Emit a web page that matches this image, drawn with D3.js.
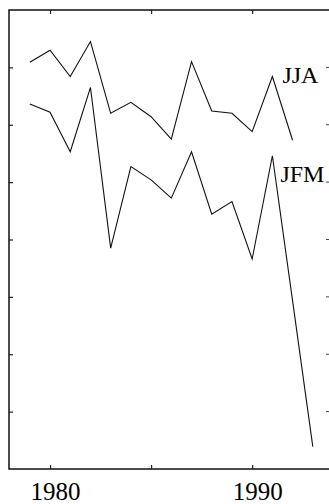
<!DOCTYPE html>
<html>
<head>
<meta charset="utf-8">
<script src="https://cdn.jsdelivr.net/npm/d3@7"></script>
<style>
  html, body { margin: 0; padding: 0; background: #fff; overflow: hidden; }
  svg { display: block; }
  text { font-family: "Liberation Serif", "DejaVu Serif", serif; fill: #000; }
</style>
</head>
<body>
<script>
// series (arbitrary units, one unit per y tick)
const yearsJJA = [1979, 1980, 1981, 1982, 1983, 1984, 1985, 1986, 1987, 1988, 1989, 1990, 1991, 1992];
const valuesJJA = [7.09, 7.30, 6.84, 7.45, 6.20, 6.39, 6.14, 5.75, 7.10, 6.24, 6.20, 5.88, 6.84, 5.73];

const yearsJFM = [1979, 1980, 1981, 1982, 1983, 1984, 1985, 1986, 1987, 1988, 1989, 1990, 1991, 1992, 1993];
const valuesJFM = [6.36, 6.22, 5.53, 6.65, 3.85, 5.27, 5.04, 4.72, 5.53, 4.44, 4.66, 3.66, 5.46, 2.93, 0.39];

const xTicks = [1980, 1985, 1990];
const xLabels = [1980, 1990];
const yTicks = [1, 2, 3, 4, 5, 6, 7];

const width = 329, height = 504;
// the right edge of the box falls just outside the picture
const frame = { left: 9, top: 10, right: 331, bottom: 469 };

const svg = d3.select("body").append("svg")
    .attr("width", width)
    .attr("height", height);

const x = d3.scaleLinear()
    .domain([1977.97, 1993.9])
    .range([frame.left, frame.right]);

const y = d3.scaleLinear()
    .domain([0, 8])
    .range([frame.bottom, frame.top]);

// ticks pointing into the box
const bottomAxis = svg.append("g")
    .attr("transform", `translate(0,${frame.bottom})`)
    .call(d3.axisBottom(x)
        .tickValues(xTicks)
        .tickSize(-4)
        .tickSizeOuter(0)
        .tickPadding(13)
        .tickFormat(d => xLabels.includes(d) ? d : ""));

bottomAxis.selectAll("text")
    .attr("dx", 5)
    .style("font-size", "25px")
    .style("font-family", "'Liberation Serif', serif")
    .attr("fill", "#000");

svg.append("g")
    .attr("transform", `translate(0,${frame.top})`)
    .call(d3.axisTop(x).tickValues(xTicks).tickSize(-4).tickSizeOuter(0).tickFormat(""));

svg.append("g")
    .attr("transform", `translate(${frame.left},0)`)
    .call(d3.axisLeft(y).tickValues(yTicks).tickSize(-4).tickSizeOuter(0).tickFormat(""));

// right side: only the inward stubs reach into the picture
svg.append("g")
    .selectAll("line")
    .data(yTicks)
    .join("line")
    .attr("x1", width - 3)
    .attr("x2", width)
    .attr("y1", d => y(d))
    .attr("y2", d => y(d))
    .attr("stroke", "#444")
    .attr("stroke-width", 1);

svg.selectAll(".domain").remove();
svg.selectAll(".tick line").attr("stroke", "#222").attr("stroke-width", 1.2);

// box: left, top and bottom sides only
svg.append("path")
    .attr("d", `M${width},${frame.top}H${frame.left}V${frame.bottom}H${width}`)
    .attr("fill", "none")
    .attr("stroke", "#111")
    .attr("stroke-width", 1.5);

const line = d3.line()
    .x(d => x(d[0]))
    .y(d => y(d[1]));

const series = [
    { name: "JJA", years: yearsJJA, values: valuesJJA, dx: 10, dy: 6 },
    { name: "JFM", years: yearsJFM, values: valuesJFM, dx: 8, dy: 26 }
];

series.forEach(s => {
    const pts = s.years.map((yr, i) => [yr, s.values[i]]);
    svg.append("path")
        .datum(pts)
        .attr("d", line)
        .attr("fill", "none")
        .attr("stroke", "#111")
        .attr("stroke-width", 1.1)
        .attr("stroke-linejoin", "miter");

    // label sits right of the 1991 peak
    const i91 = s.years.indexOf(1991);
    svg.append("text")
        .attr("x", x(1991) + s.dx)
        .attr("y", y(s.values[i91]) + s.dy)
        .style("font-size", "24px")
        .text(s.name);
});
</script>
</body>
</html>
